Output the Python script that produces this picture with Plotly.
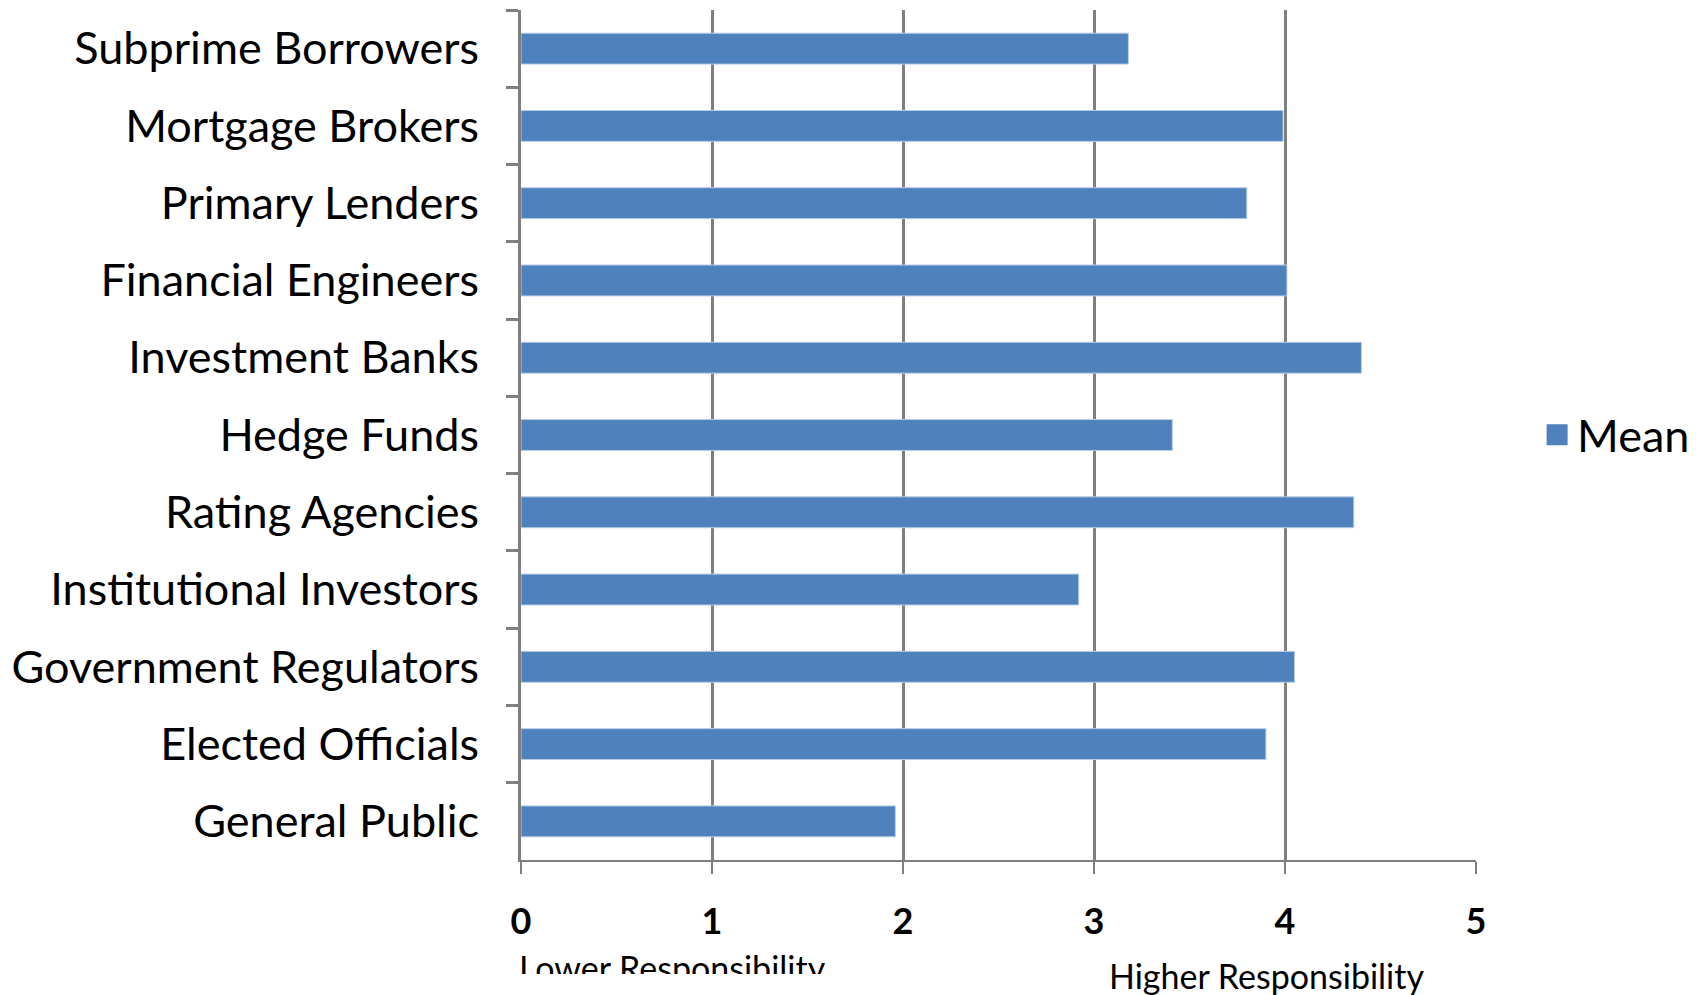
import plotly.graph_objects as go

categories = ["Subprime Borrowers", "Mortgage Brokers", "Primary Lenders", "Financial Engineers",
              "Investment Banks", "Hedge Funds", "Rating Agencies", "Institutional Investors",
              "Government Regulators", "Elected Officials", "General Public"]
mean_values = [3.18, 3.99, 3.80, 4.01, 4.40, 3.41, 4.36, 2.92, 4.05, 3.90, 1.96]
x_ticks = [0, 1, 2, 3, 4, 5]
series_name = "Mean"
low_label = "Lower Responsibility"
high_label = "Higher Responsibility"

FONT = "Lato"
GRID = "#7F7F7F"
BAR = "#4F81BD"

fig = go.Figure()
fig.add_trace(go.Bar(
    x=mean_values, y=categories, orientation="h", name=series_name,
    marker=dict(color=BAR, line=dict(color="#B9CDE5", width=1)),
    width=0.4, showlegend=False,
))
# legend entry (larger square symbol than the fixed bar legend icon)
fig.add_trace(go.Scatter(
    x=[None], y=[None], mode="markers", name=series_name,
    marker=dict(symbol="square", size=16, color=BAR, line=dict(color=BAR, width=5)),
    showlegend=True, hoverinfo="skip",
))

fig.update_layout(
    width=1699, height=995,
    margin=dict(l=521, r=223, t=10, b=135, autoexpand=False),
    paper_bgcolor="white", plot_bgcolor="white",
    font=dict(family=FONT, color="black"),
    showlegend=True,
    legend=dict(x=1.064, y=0.5, xanchor="left", yanchor="middle",
                font=dict(size=45, family=FONT, color="black"),
                bgcolor="rgba(0,0,0,0)"),
    xaxis=dict(range=[0, 5], tickvals=x_ticks, showgrid=True, gridcolor=GRID, gridwidth=3,
               showline=True, linecolor=GRID, linewidth=2, ticks="outside", ticklen=12,
               tickcolor=GRID, tickwidth=2, ticklabelstandoff=17, zeroline=False,
               tickfont=dict(size=36, family=FONT, color="black", weight="bold")),
    yaxis=dict(autorange="reversed", type="category", showline=True, linecolor=GRID, linewidth=3,
               ticks="outside", ticklen=12, tickcolor=GRID, tickwidth=3, tickson="boundaries",
               ticklabelstandoff=30, showgrid=False,
               tickfont=dict(size=45, family=FONT, color="black")),
    bargap=0.6,
)

fig.add_annotation(text=low_label, xref="paper", yref="paper", x=-0.004, y=-0.1,
                   xanchor="left", yanchor="top", showarrow=False, height=27, valign="top",
                   font=dict(size=34, family=FONT, color="black"))
fig.add_annotation(text=high_label, xref="paper", yref="paper", x=0.614, y=-0.136,
                   xanchor="left", yanchor="middle", showarrow=False,
                   font=dict(size=34, family=FONT, color="black"))

fig.write_html("out.html")
